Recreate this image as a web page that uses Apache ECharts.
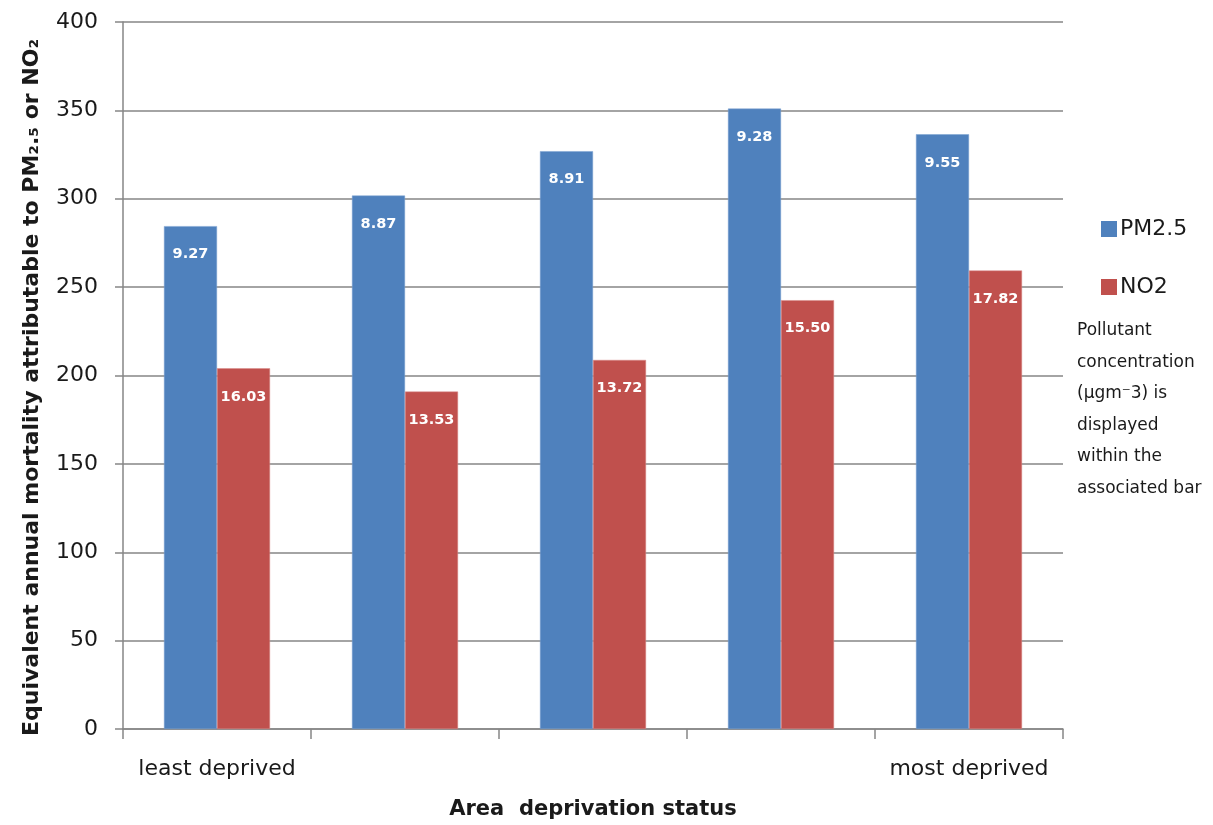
<!DOCTYPE html>
<html>
<head>
<meta charset="utf-8">
<script src="https://cdn.jsdelivr.net/npm/echarts@6/dist/echarts.min.js"></script>
<style>
html,body{margin:0;padding:0;background:#fff;}
#chart{width:1213px;height:825px;}
</style>
</head>
<body>
<div id="chart"></div>
<script>
const categories = ['Q1 least deprived', 'Q2', 'Q3', 'Q4', 'Q5 most deprived'];
const categoryLabels = ['least deprived', '', '', '', 'most deprived'];
const pm25Mortality = [284.5, 301.8, 326.9, 351.0, 336.5];
const no2Mortality = [204.1, 190.9, 208.8, 242.6, 259.4];
const pm25Concentration = ['9.27', '8.87', '8.91', '9.28', '9.55'];
const no2Concentration = ['16.03', '13.53', '13.72', '15.50', '17.82'];
const seriesNames = ['PM2.5', 'NO2'];
const yTicks = { min: 0, max: 400, interval: 50 };
const noteText = 'Pollutant\nconcentration\n(\u03bcgm\u207b3) is\ndisplayed\nwithin the\nassociated bar';

const FONT = 'DejaVu Sans';
const chart = echarts.init(document.getElementById('chart'));
const labelStyle = (arr) => ({
  show: true,
  position: 'insideTop',
  distance: 21,
  color: '#ffffff',
  fontFamily: FONT,
  fontWeight: 'bold',
  fontSize: 14.5,
  formatter: (p) => arr[p.dataIndex]
});
chart.setOption({
  animation: false,
  backgroundColor: '#ffffff',
  grid: { left: 123, right: 150, top: 22, bottom: 95, containLabel: false },
  legend: {
    orient: 'vertical',
    left: 1096,
    top: 213,
    itemWidth: 16,
    itemHeight: 16,
    itemGap: 36,
    icon: 'rect',
    itemStyle: { borderWidth: 0 },
    textStyle: { fontFamily: FONT, fontSize: 22, color: '#1a1a1a', padding: [0, 0, 0, -2] },
    data: seriesNames
  },
  graphic: [{
    type: 'text',
    left: 1077,
    top: 315,
    style: {
      text: noteText,
      fontFamily: FONT,
      fontSize: 17,
      lineHeight: 31.5,
      fill: '#1a1a1a'
    }
  }],
  xAxis: {
    type: 'category',
    data: categories,
    name: 'Area  deprivation status',
    nameLocation: 'middle',
    nameGap: 70,
    nameTextStyle: { fontFamily: FONT, fontWeight: 'bold', fontSize: 21, color: '#1a1a1a' },
    axisLine: { lineStyle: { color: '#868686', width: 1.5 } },
    axisTick: { show: true, length: 10, lineStyle: { color: '#868686', width: 1.5 } },
    axisLabel: {
      interval: 0,
      margin: 29,
      fontFamily: FONT,
      fontSize: 22,
      color: '#1a1a1a',
      formatter: (v, i) => categoryLabels[i]
    },
    splitLine: { show: false }
  },
  yAxis: {
    type: 'value',
    min: yTicks.min,
    max: yTicks.max,
    interval: yTicks.interval,
    name: 'Equivalent annual mortality attributable to PM\u2082.\u2085 or NO\u2082',
    nameLocation: 'middle',
    nameGap: 80,
    nameTextStyle: { fontFamily: FONT, fontWeight: 'bold', fontSize: 22, color: '#1a1a1a', padding: [0, 24, 0, 0] },
    axisLine: { show: true, lineStyle: { color: '#868686', width: 1.5 } },
    axisTick: { show: true, length: 8, inside: false, lineStyle: { color: '#868686', width: 1.5 } },
    axisLabel: { margin: 25, fontFamily: FONT, fontSize: 22, color: '#1a1a1a' },
    splitLine: { show: true, lineStyle: { color: '#868686', width: 1.5 } }
  },
  series: [
    {
      name: seriesNames[0],
      type: 'bar',
      data: pm25Mortality,
      barGap: '0%',
      barCategoryGap: '43.6%',
      itemStyle: { color: '#4F81BD', borderColor: '#7aa0d0', borderWidth: 0.5 },
      label: labelStyle(pm25Concentration)
    },
    {
      name: seriesNames[1],
      type: 'bar',
      data: no2Mortality,
      barGap: '0%',
      barCategoryGap: '43.6%',
      itemStyle: { color: '#C0504D', borderColor: '#d88a88', borderWidth: 0.5 },
      label: labelStyle(no2Concentration)
    }
  ]
});
</script>
</body>
</html>
